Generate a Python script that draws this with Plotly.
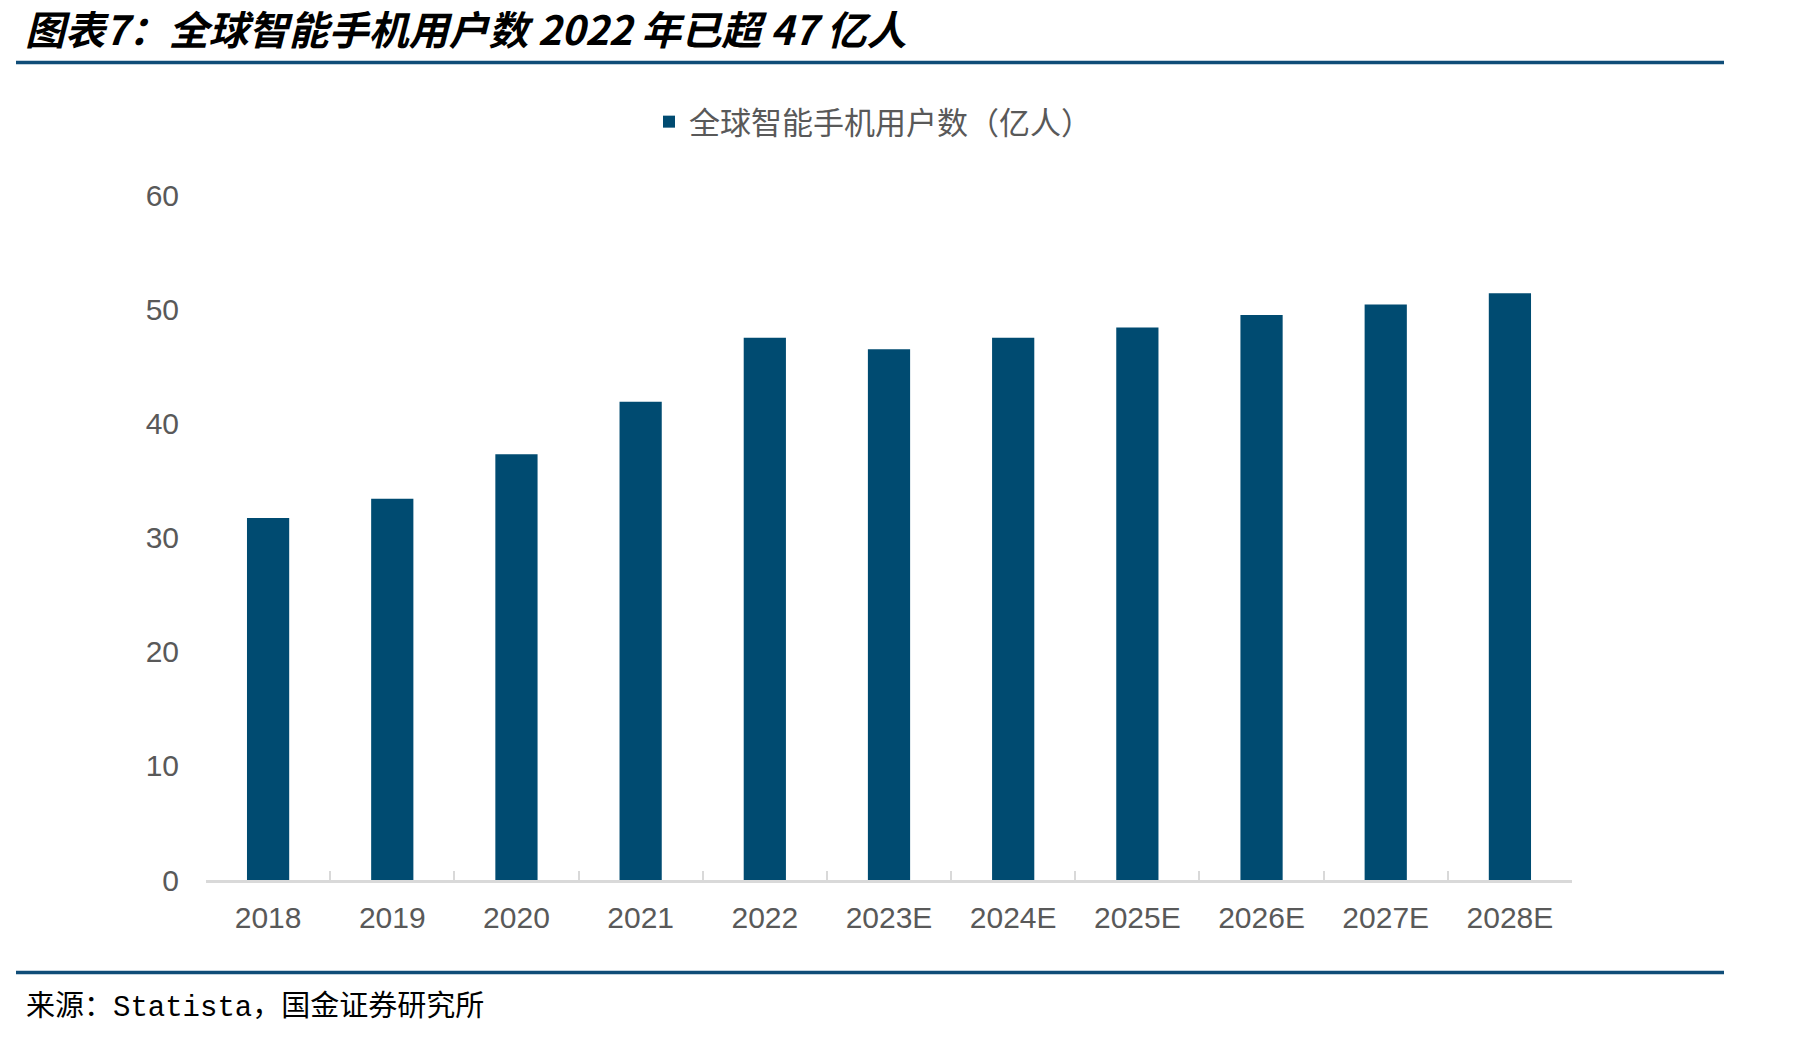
import plotly.graph_objs as go

# data
years = ["2018", "2019", "2020", "2021", "2022", "2023E",
         "2024E", "2025E", "2026E", "2027E", "2028E"]
users = [31.7, 33.4, 37.3, 41.9, 47.5, 46.5, 47.5, 48.4, 49.5, 50.4, 51.4]
series_name = "全球智能手机用户数（亿人）"
y_ticks = [0, 10, 20, 30, 40, 50, 60]

title_text = "图表7：全球智能手机用户数 2022 年已超 47 亿人"
source_text = "来源：Statista，国金证券研究所"

BAR_COLOR = "#004b71"
RULE_COLOR = "#0f4d78"
TEXT_GREY = "#595959"
AXIS_GREY = "#d9d9d9"
CJK = "Noto Sans CJK SC"
SANS = "Liberation Sans, Arial, " + CJK

# the page body has an 8px margin, so the figure is drawn 8px smaller
OFF = 8
W, H = 1811 - OFF, 1038 - OFF
PLOT_LEFT, PLOT_RIGHT = 206 - OFF, 1572 - OFF
PLOT_TOP, PLOT_BOTTOM = 195 - OFF, 880 - OFF
PW, PH = PLOT_RIGHT - PLOT_LEFT, PLOT_BOTTOM - PLOT_TOP


def px_x(x):
    """Page x pixel -> paper coordinate."""
    return (x - OFF - PLOT_LEFT) / PW


def px_y(y):
    """Page y pixel -> paper coordinate."""
    return (PLOT_BOTTOM - (y - OFF)) / PH


def visualize():
    figure = go.Figure()

    figure.add_trace(go.Bar(
        name=series_name,
        x=years,
        y=users,
        marker={"color": BAR_COLOR, "line": {"width": 0}},
    ))

    # Prepare figure
    figure.update_layout(
        template="simple_white",
        autosize=False,
        width=W,
        height=H,
        margin=dict(l=PLOT_LEFT, r=W - PLOT_RIGHT, t=PLOT_TOP, b=H - PLOT_BOTTOM),
        paper_bgcolor="white",
        plot_bgcolor="white",
        bargap=0.66,
        title=dict(
            text=title_text,
            x=(25 - OFF) / W,
            xanchor="left",
            xref="container",
            y=1 - (31 - OFF) / H,
            yanchor="middle",
            yref="container",
            font=dict(family=CJK, size=40, color="black",
                      weight="bold", style="italic"),
        ),
        showlegend=True,
        legend=dict(
            orientation="h",
            x=px_x(873),
            xanchor="center",
            y=px_y(122),
            yanchor="middle",
            font=dict(family=CJK, size=31, color=TEXT_GREY),
            bgcolor="rgba(0,0,0,0)",
        ),
        shapes=[
            dict(type="line", xref="paper", yref="paper", layer="above",
                 opacity=1, x0=px_x(16), x1=px_x(1724),
                 y0=px_y(62.5), y1=px_y(62.5),
                 line=dict(color=RULE_COLOR, width=3.5)),
            dict(type="line", xref="paper", yref="paper", layer="above",
                 opacity=1, x0=px_x(16), x1=px_x(1724),
                 y0=px_y(972.5), y1=px_y(972.5),
                 line=dict(color=RULE_COLOR, width=3.5)),
        ],
        annotations=[
            dict(text=source_text, xref="paper", yref="paper",
                 x=px_x(24), xanchor="left",
                 y=px_y(1007), yanchor="middle",
                 showarrow=False,
                 font=dict(family="Liberation Mono, " + CJK,
                           size=29, color="black")),
        ],
    )

    figure.update_xaxes(
        type="category",
        showline=True,
        linecolor=AXIS_GREY,
        linewidth=2.5,
        ticks="inside",
        tickson="boundaries",
        ticklen=9,
        tickwidth=2,
        tickcolor=AXIS_GREY,
        ticklabelstandoff=9,
        tickfont=dict(family=SANS, size=30, color=TEXT_GREY),
        showgrid=False,
    )
    figure.update_yaxes(
        range=[0, 60],
        tickvals=y_ticks,
        showline=False,
        ticks="",
        showgrid=False,
        zeroline=False,
        ticklabelstandoff=26,
        tickfont=dict(family=SANS, size=30, color=TEXT_GREY),
    )

    # Store figure
    figure.write_html("out.html")


if __name__ == '__main__':
    visualize()
